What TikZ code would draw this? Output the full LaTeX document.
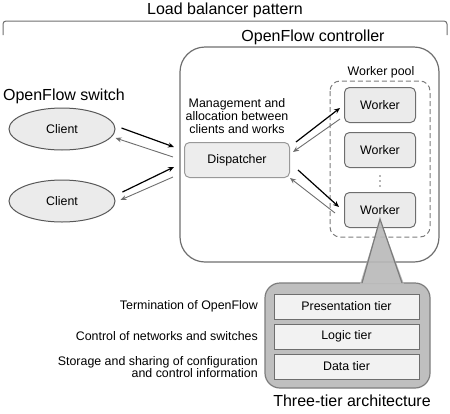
\documentclass[tikz,border=0pt]{standalone}
\usepackage{fontspec}
\setmainfont{Liberation Sans}
\usetikzlibrary{arrows.meta, shapes.geometric}
\definecolor{boxfill}{HTML}{EBEBEB}
\definecolor{lineg}{HTML}{6E6E6E}
\definecolor{callout}{HTML}{B8B8B8}
\newcommand{\bigtxt}{\fontsize{16}{18}\selectfont}
\newcommand{\smalltxt}{\fontsize{12.4}{12.8}\selectfont}
\begin{document}
\begin{tikzpicture}[x=1pt, y=-1pt,
        box/.style={draw=lineg, line width=1pt, fill=boxfill, rounded corners=5pt,
            font=\smalltxt},
        client/.style={draw=lineg!80!black, line width=1pt, fill=boxfill, ellipse,
            minimum width=106pt, minimum height=42pt, font=\smalltxt},
        worker/.style={box, minimum width=71pt, minimum height=35pt},
        tier/.style={draw=lineg, line width=1pt, fill=white!95!black,
            minimum width=145pt, minimum height=25pt, font=\smalltxt},
        note/.style={font=\smalltxt, align=right, anchor=east, inner sep=0pt},
        fwd/.style={line width=1.2pt, -{Stealth[length=6pt, width=5pt]}},
        back/.style={line width=0.9pt, draw=lineg, -{Stealth[length=6pt, width=5pt]}}]
    \useasboundingbox (0,0) rectangle (450,413);

    % bracket and titles
    \node[font=\bigtxt] (title) at (225,10) {Load balancer pattern};
    \draw[lineg, line width=1pt, rounded corners=3pt] (3,35) -- (3,21) -- (447,21) -- (447,35);
    \node[font=\bigtxt] (ctrltxt) at (313,37) {OpenFlow controller};
    \node[font=\bigtxt] (swtxt) at (64,96) {OpenFlow switch};

    % controller and worker pool
    \draw[lineg, line width=1.2pt, rounded corners=25pt] (180,47) rectangle (439,262);
    \draw[lineg!90, line width=1pt, dashed, dash pattern=on 5pt off 3pt, rounded corners=10pt]
        (330,81) rectangle (430,237);
    \node[font=\smalltxt] (pooltxt) at (381,72) {Worker pool};

    % clients and dispatcher
    \node[client] (c1) at (62,129) {Client};
    \node[client] (c2) at (62,201) {Client};
    \node[box, minimum width=105pt, minimum height=35pt, fill=white!93!black,
        draw=lineg!70] (disp) at (237,160) {Dispatcher};
    \node[font=\smalltxt, align=center] (mgmt) at (237,116)
        {Management and\\allocation between\\clients and works};

    % workers
    \node[worker] (w1) at (380,105) {Worker};
    \node[worker] (w2) at (380,150) {Worker};
    \node[worker] (w3) at (380,210) {Worker};
    \foreach \y in {176,181,186}
        \fill[lineg] (380,\y) circle (0.9pt);

    % arrows
    \draw[fwd] ([xshift=6pt,yshift=1pt]c1.east) -- ([xshift=-10pt,yshift=13pt]disp.west);
    \draw[back] ([xshift=-11pt,yshift=3pt]disp.west) -- ([yshift=-9pt]c1.east);
    \draw[fwd] ([xshift=7pt,yshift=9pt]c2.east) -- ([xshift=-10pt,yshift=-7pt]disp.west);
    \draw[back] ([xshift=-11pt,yshift=-17pt]disp.west) -- ([xshift=5pt,yshift=1pt]c2.east);
    \draw[fwd] ([xshift=6pt,yshift=18pt]disp.east) -- ([xshift=-4pt,yshift=-3pt]w1.west);
    \draw[back] ([xshift=-4pt,yshift=-14pt]w1.west) -- ([xshift=3pt,yshift=8pt]disp.east);
    \draw[fwd] ([xshift=8pt,yshift=-10pt]disp.east) -- ([xshift=-5pt,yshift=3pt]w3.west);
    \draw[back] ([xshift=-9pt,yshift=-3pt]w3.west) -- ([yshift=-18pt]disp.east);

    % three-tier callout
    \draw[draw=lineg!90, line width=1.2pt, fill=callout, fill opacity=0.9, rounded corners=15pt]
        (362,283) -- (265,283) -- (265,388) -- (430,388) -- (430,283) -- (402,283);
    \fill[callout, fill opacity=0.9] (380,219) -- (360,284) -- (404,284) -- cycle;
    \draw[lineg!90, line width=1.2pt] (362,283) -- (380,219) -- (402,283);
    \node[tier] (pres) at (346.5,306.5) {Presentation tier};
    \node[tier] (logic) at (346.5,336.5) {Logic tier};
    \node[tier] (data) at (346.5,366.5) {Data tier};
    \node[font=\bigtxt] (archtxt) at (352,401) {Three-tier architecture};

    % notes
    \node[note] (n1) at (258,306) {Termination of OpenFlow};
    \node[note] (n2) at (258,336) {Control of networks and switches};
    \node[note] (n3) at (258,367) {Storage and sharing of configuration\\and control information};
\end{tikzpicture}
\end{document}
